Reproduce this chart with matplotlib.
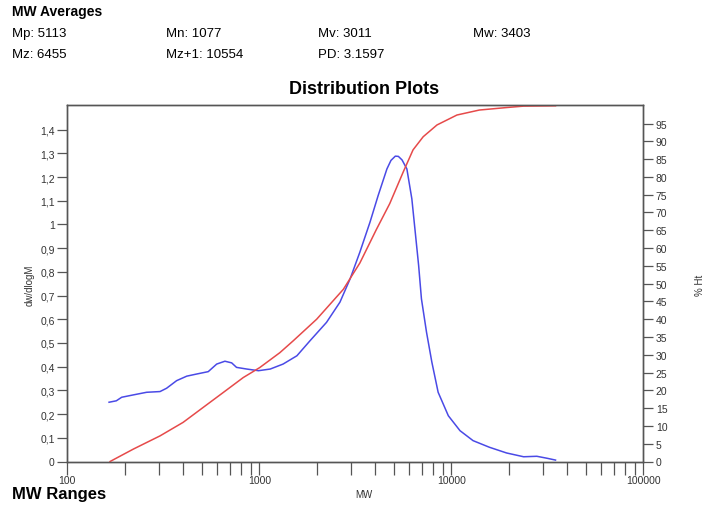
import numpy as np
import matplotlib.pyplot as plt
from matplotlib.ticker import FuncFormatter, LogLocator, NullFormatter

plt.rcParams['font.family'] = ['Liberation Sans', 'DejaVu Sans']

# dw/dlogM distribution (blue, left axis)
mw_dist = [165, 180, 192, 221, 259, 304, 329, 371, 419, 472, 542, 600, 662, 718,
           761, 860, 990, 1140, 1330, 1570, 1840, 2240, 2630, 2970, 3340, 3770,
           4160, 4620, 4850, 5110, 5300, 5540, 5870, 6230, 6490, 6760, 6990, 7430,
           7920, 8540, 9650, 11100, 12980, 15800, 19400, 23800, 27900, 31600, 34900]
dwdlogm = [0.250, 0.256, 0.271, 0.281, 0.292, 0.295, 0.309, 0.341, 0.360, 0.369,
           0.379, 0.411, 0.423, 0.416, 0.397, 0.390, 0.383, 0.390, 0.411, 0.446,
           0.510, 0.587, 0.672, 0.770, 0.883, 1.009, 1.122, 1.234, 1.270, 1.288,
           1.287, 1.272, 1.234, 1.108, 0.967, 0.826, 0.686, 0.545, 0.419, 0.292,
           0.193, 0.130, 0.088, 0.060, 0.036, 0.020, 0.022, 0.0135, 0.006]

# cumulative % Ht (red, right axis)
mw_cum = [167, 221, 304, 401, 510, 649, 825, 1005, 1280, 1500, 1990, 2740, 3340,
          4070, 4780, 5630, 6320, 7140, 8420, 10700, 14000, 19400, 23800, 34900]
pct_ht = [0.0, 3.5, 7.2, 11.0, 15.2, 19.4, 23.6, 26.4, 30.6, 33.9, 40.0, 48.4,
          55.8, 65.2, 72.5, 81.5, 87.6, 91.3, 94.6, 97.4, 98.8, 99.5, 99.9, 100.0]

averages_row1 = ["Mp: 5113", "Mn: 1077", "Mv: 3011", "Mw: 3403"]
averages_row2 = ["Mz: 6455", "Mz+1: 10554", "PD: 3.1597"]
col_x = [12, 166, 318, 473]

W, H = 707, 506
fig = plt.figure(figsize=(W / 100, H / 100), dpi=100)
ax = fig.add_axes([67.3 / W, 1 - 462.5 / H, 576 / W, 356.8 / H])
ax2 = ax.twinx()

ax.plot(mw_dist, dwdlogm, color='#4a4ae6', lw=1.1)
ax2.plot(mw_cum, pct_ht, color='#e64a4a', lw=1.1)

ax.set_xscale('log')
ax.set_xlim(100, 100000)
ax.set_ylim(0, 1.505)
ax2.set_ylim(0, 100.3)

ax.set_yticks(np.arange(0, 1.41, 0.1))
ax.yaxis.set_major_formatter(FuncFormatter(lambda v, p: f"{v:g}".replace('.', ',')))
ax2.set_yticks(np.arange(0, 96, 5))

ax.xaxis.set_major_locator(LogLocator(base=10, numticks=10))
ax.xaxis.set_minor_locator(LogLocator(base=10, subs=np.arange(2, 10), numticks=20))
ax.xaxis.set_minor_formatter(NullFormatter())
ax.xaxis.set_major_formatter(FuncFormatter(lambda v, p: f"{int(v)}"))

for a in (ax, ax2):
    for s in a.spines.values():
        s.set_color('#555555')
        s.set_linewidth(1.0)
ax.tick_params(axis='x', which='both', direction='out', length=9, width=0.9,
               color='#555555', labelsize=7.5, pad=1, labelcolor='#333333')
ax.tick_params(axis='y', direction='out', length=7, width=0.9, color='#555555',
               labelsize=7.5, pad=2, labelcolor='#333333')
ax2.tick_params(axis='y', direction='out', length=7, width=0.9, color='#555555',
                labelsize=7.5, pad=2, labelcolor='#333333')

fig.text(12 / W, 1 - 12 / H, "MW Averages", fontsize=10, fontweight='bold', va='center')
for x, t in zip(col_x, averages_row1):
    fig.text(x / W, 1 - 34 / H, t, fontsize=9.5, va='center')
for x, t in zip(col_x, averages_row2):
    fig.text(x / W, 1 - 55 / H, t, fontsize=9.5, va='center')
fig.text(364 / W, 1 - 90 / H, "Distribution Plots", fontsize=13, fontweight='bold',
         ha='center', va='center')
fig.text(12 / W, 1 - 495 / H, "MW Ranges", fontsize=12, fontweight='bold', va='center')
fig.text(364 / W, 1 - 495 / H, "MW", fontsize=7, ha='center', va='center', color='#333333')
fig.text(30 / W, 1 - 285 / H, "dw/dlogM", fontsize=7, rotation=90, ha='center',
         va='center', color='#333333')
fig.text(700 / W, 1 - 285 / H, "% Ht", fontsize=7, rotation=90, ha='center',
         va='center', color='#333333')

fig.savefig("out.png", dpi=100)
